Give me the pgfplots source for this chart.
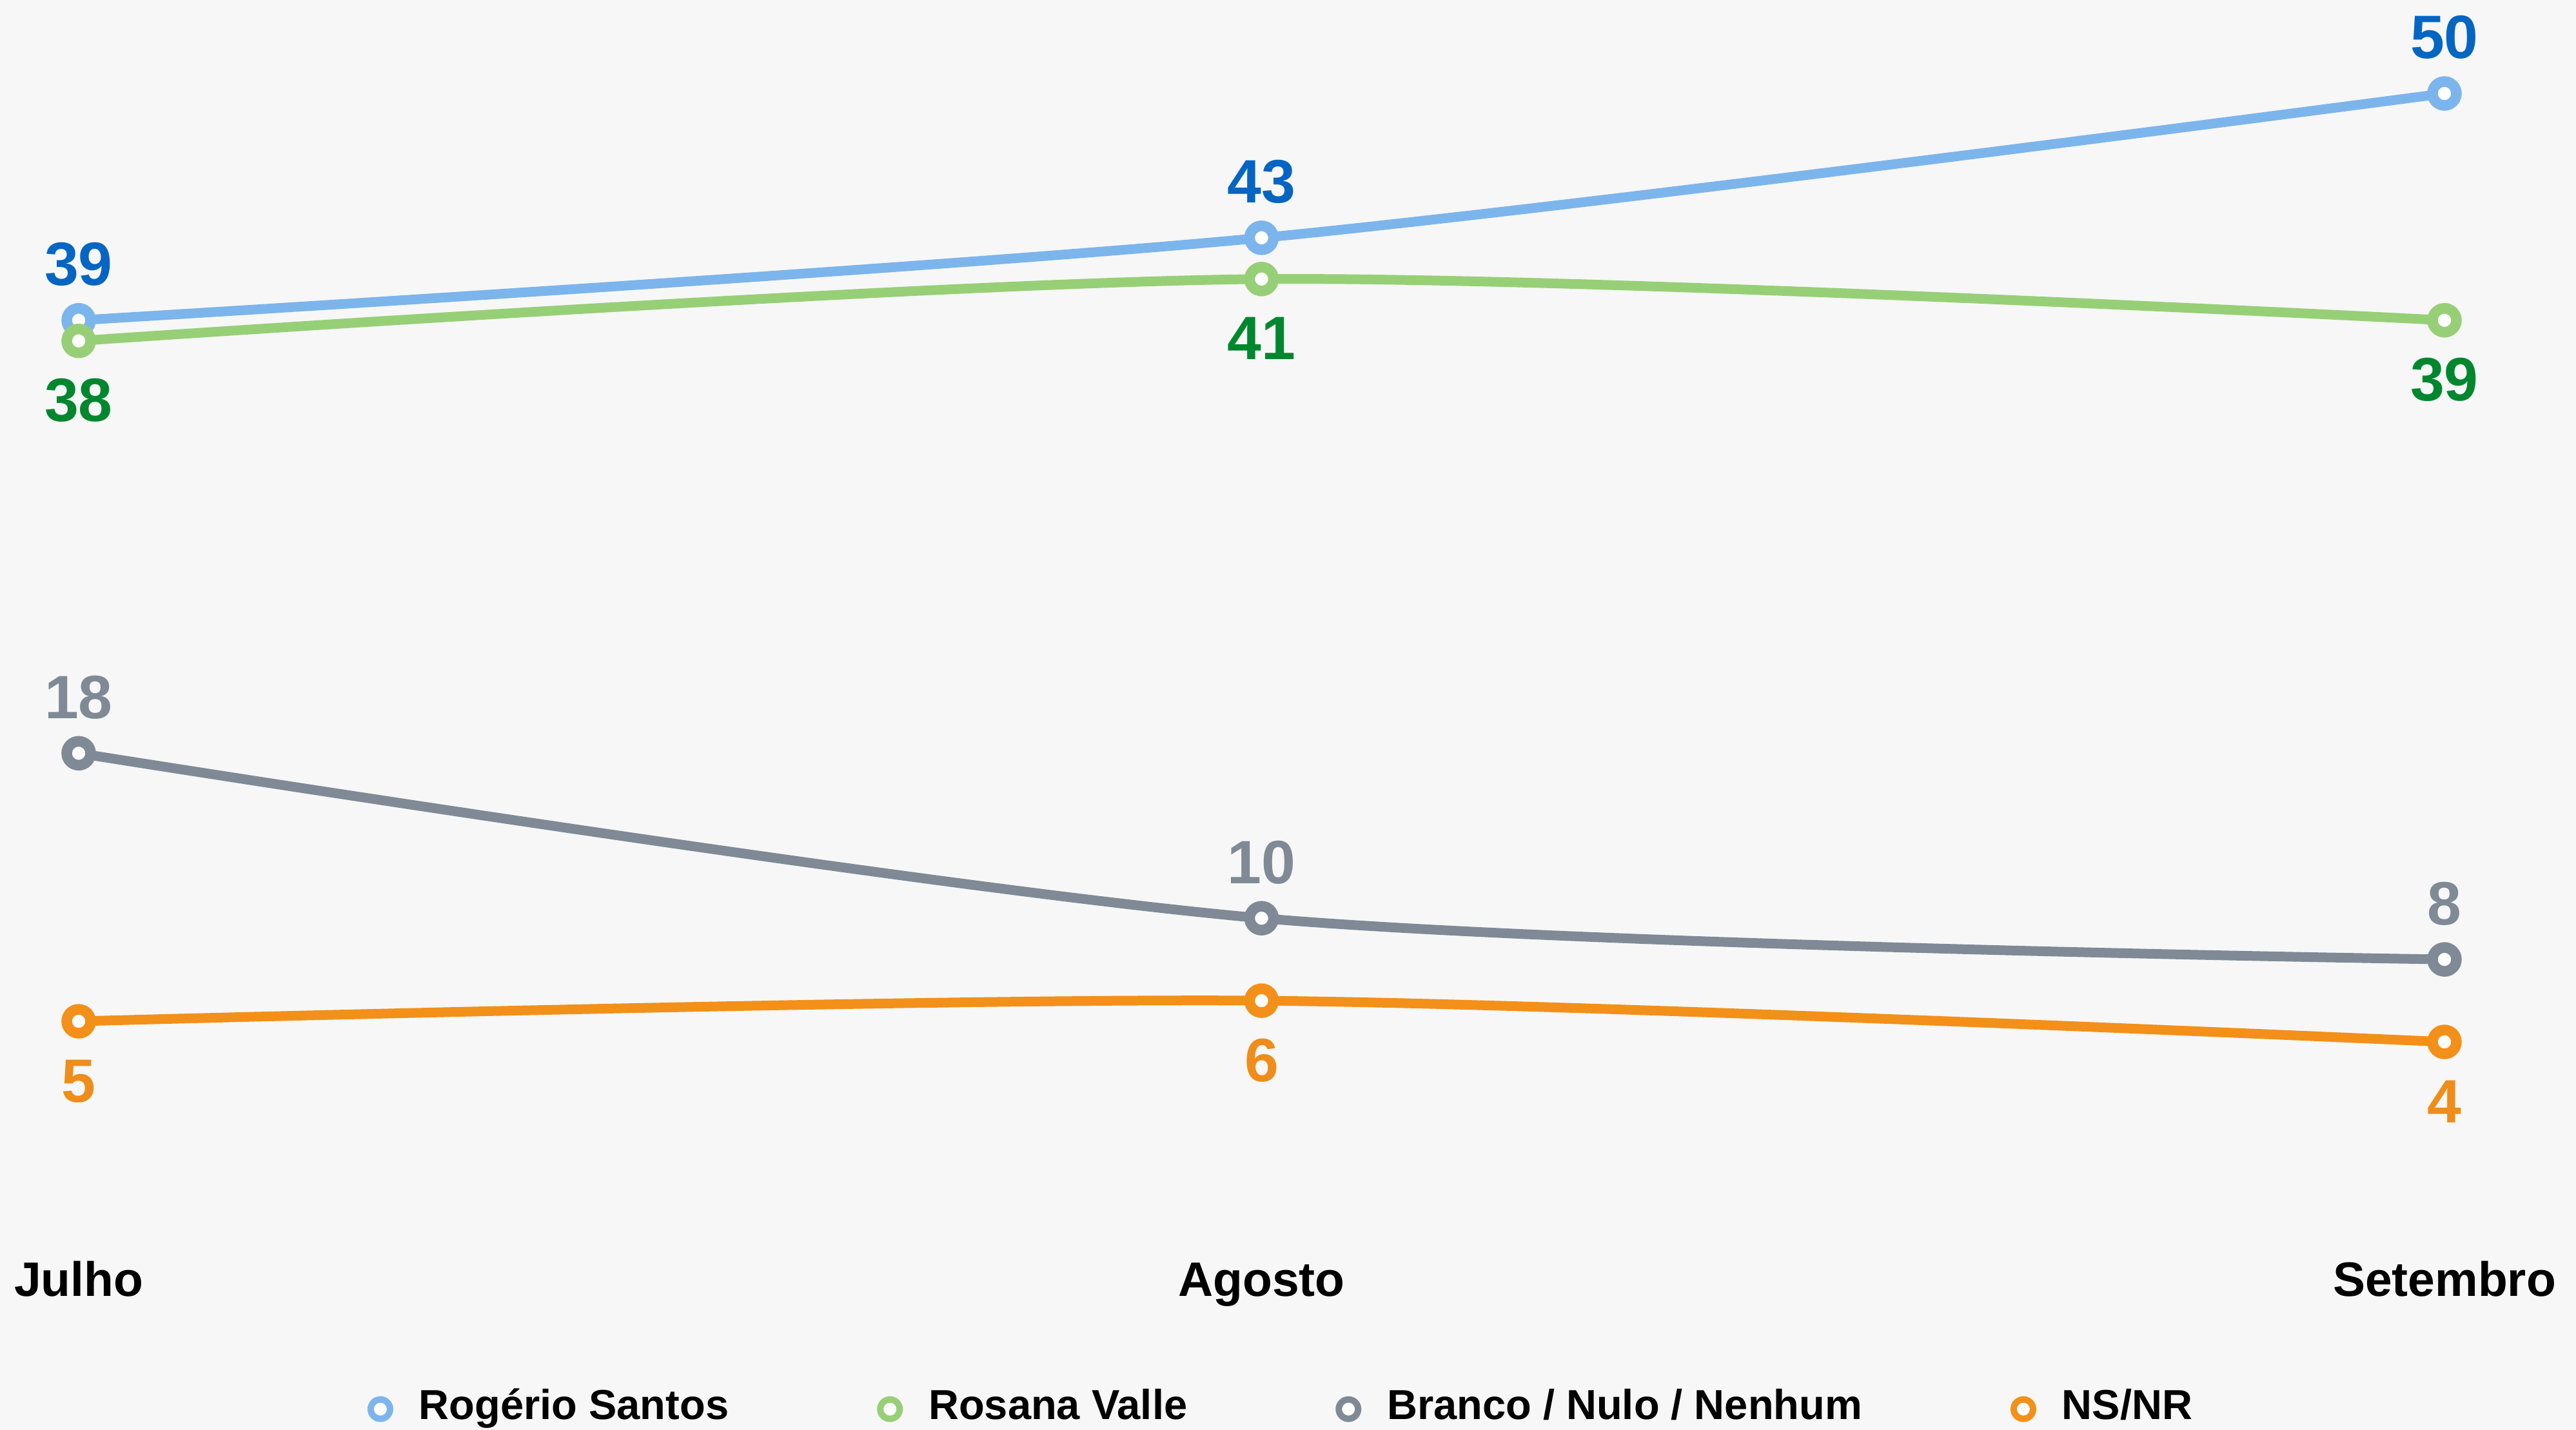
\documentclass[border=0pt]{standalone}
\usepackage{fontspec}
\setmainfont{Liberation Sans}
\usepackage{pgfplots}
\pgfplotsset{compat=1.18}

\definecolor{bgc}{HTML}{F7F7F7}
\definecolor{blueline}{HTML}{7CB5EC}
\definecolor{bluelab}{HTML}{0565C2}
\definecolor{greenline}{HTML}{97CF77}
\definecolor{greenlab}{HTML}{00872E}
\definecolor{grayline}{HTML}{7F8A96}
\definecolor{graylab}{HTML}{7F8A96}
\definecolor{orangeline}{HTML}{F39019}
\definecolor{orangelab}{HTML}{F08C1A}

\pgfplotsset{
  serie/.style n args={2}{
    color=#1, line width=1.5pt, smooth, tension=0.5,
    mark=*, mark size=1.85pt,
    mark options={fill=white, draw=#1, line width=1.65pt},
    nodes near coords={\pgfmathprintnumber{\pgfplotspointmeta}},
    every node near coord/.append style={
      font=\bfseries\fontsize{9.5}{11}\selectfont, text=#2, anchor=base},
  },
  above/.style={every node near coord/.append style={yshift=5.4pt}},
  below/.style={every node near coord/.append style={yshift=-12.5pt}},
}

\begin{document}
\begin{tikzpicture}
\fill[bgc] (0,0) rectangle (399.5pt,221.8pt);
\begin{axis}[
    at={(12.2pt,47.4pt)}, anchor=south west,
    scale only axis,
    width=366.9pt, height=159.9pt,
    xmin=0, xmax=2, ymin=0, ymax=50,
    clip=false,
    axis line style={draw=none},
    tick style={draw=none},
    major tick length=0pt,
    xtick={0,1,2},
    xticklabels={Julho,Agosto,Setembro},
    ytick=\empty,
    xticklabel style={font=\bfseries\fontsize{7.5}{9}\selectfont, anchor=base, yshift=-26.7pt},
    /pgf/number format/assume math mode=true,
    legend columns=4,
    legend style={at={(0.5112,-0.2762)}, anchor=center, draw=none, fill=none,
      font=\bfseries\fontsize{6.5}{8}\selectfont,
      /tikz/every even column/.append style={column sep=21.5pt},
      /tikz/every odd column/.append style={column sep=2.5pt}},
    legend image code/.code={\draw[#1, mark size=1.5pt, every mark/.append style={line width=1pt}] plot coordinates {(0pt,0pt)};},
]
\addplot[serie={blueline}{bluelab}, above] coordinates {(0,39) (1,43) (2,50)};
\addplot[serie={greenline}{greenlab}, below] coordinates {(0,38) (1,41) (2,39)};
\addplot[serie={grayline}{graylab}, above] coordinates {(0,18) (1,10) (2,8)};
\addplot[serie={orangeline}{orangelab}, below] coordinates {(0,5) (1,6) (2,4)};
\legend{Rogério Santos, Rosana Valle, Branco / Nulo / Nenhum, NS/NR}
\end{axis}
\pgfresetboundingbox
\path (0,0) rectangle (399.5pt,221.8pt);
\end{tikzpicture}
\end{document}
